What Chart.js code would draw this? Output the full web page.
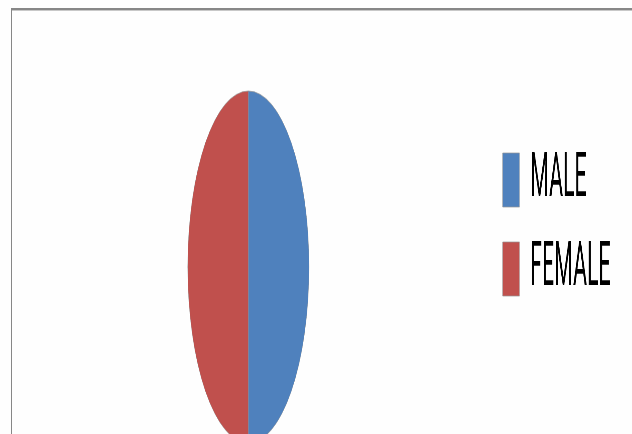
<!DOCTYPE html>
<html>
<head>
<meta charset="utf-8">
<script src="https://cdn.jsdelivr.net/npm/chart.js@4/dist/chart.umd.min.js"></script>
<style>
  html, body { margin: 0; padding: 0; background: #fefefe; overflow: hidden; }
  body { width: 632px; height: 434px; position: relative; }
  #frame { position: absolute; left: 11px; top: 8px; width: 700px; height: 500px;
           border-top: 2px solid #878787; border-left: 1px solid #878787; }
  #frame::before { content: ''; position: absolute; left: 0; right: 0; top: 0; height: 1px; background: #c8c8c8; }
  /* the chart is laid out wide and then squeezed sideways */
  #wrap { position: absolute; left: 0; top: 0; width: 1832px; height: 434px;
          transform: scaleX(0.345); transform-origin: 0 0; }
</style>
</head>
<body>
<div id="frame"></div>
<div id="wrap"><canvas id="genderChart"></canvas></div>
<script>
const labels = ['MALE', 'FEMALE'];
const counts = [50, 50];
const colors = ['#4f81bd', '#c0504d'];

new Chart(document.getElementById('genderChart'), {
  type: 'pie',
  data: {
    labels: labels,
    datasets: [{
      data: counts,
      backgroundColor: colors,
      borderColor: 'rgba(150,150,150,0.7)',
      borderWidth: 1,
      clip: false
    }]
  },
  options: {
    responsive: true,
    maintainAspectRatio: false,
    animation: false,
    radius: 176,
    layout: { padding: { left: 10, right: 52, top: 122, bottom: 22 } },
    plugins: {
      tooltip: { enabled: false },
      legend: {
        position: 'right',
        align: 'start',
        labels: {
          boxWidth: 49,
          boxHeight: 54,
          padding: 27,
          color: '#000',
          font: { family: 'Roboto', size: 62 }
        }
      }
    }
  }
});
</script>
</body>
</html>
